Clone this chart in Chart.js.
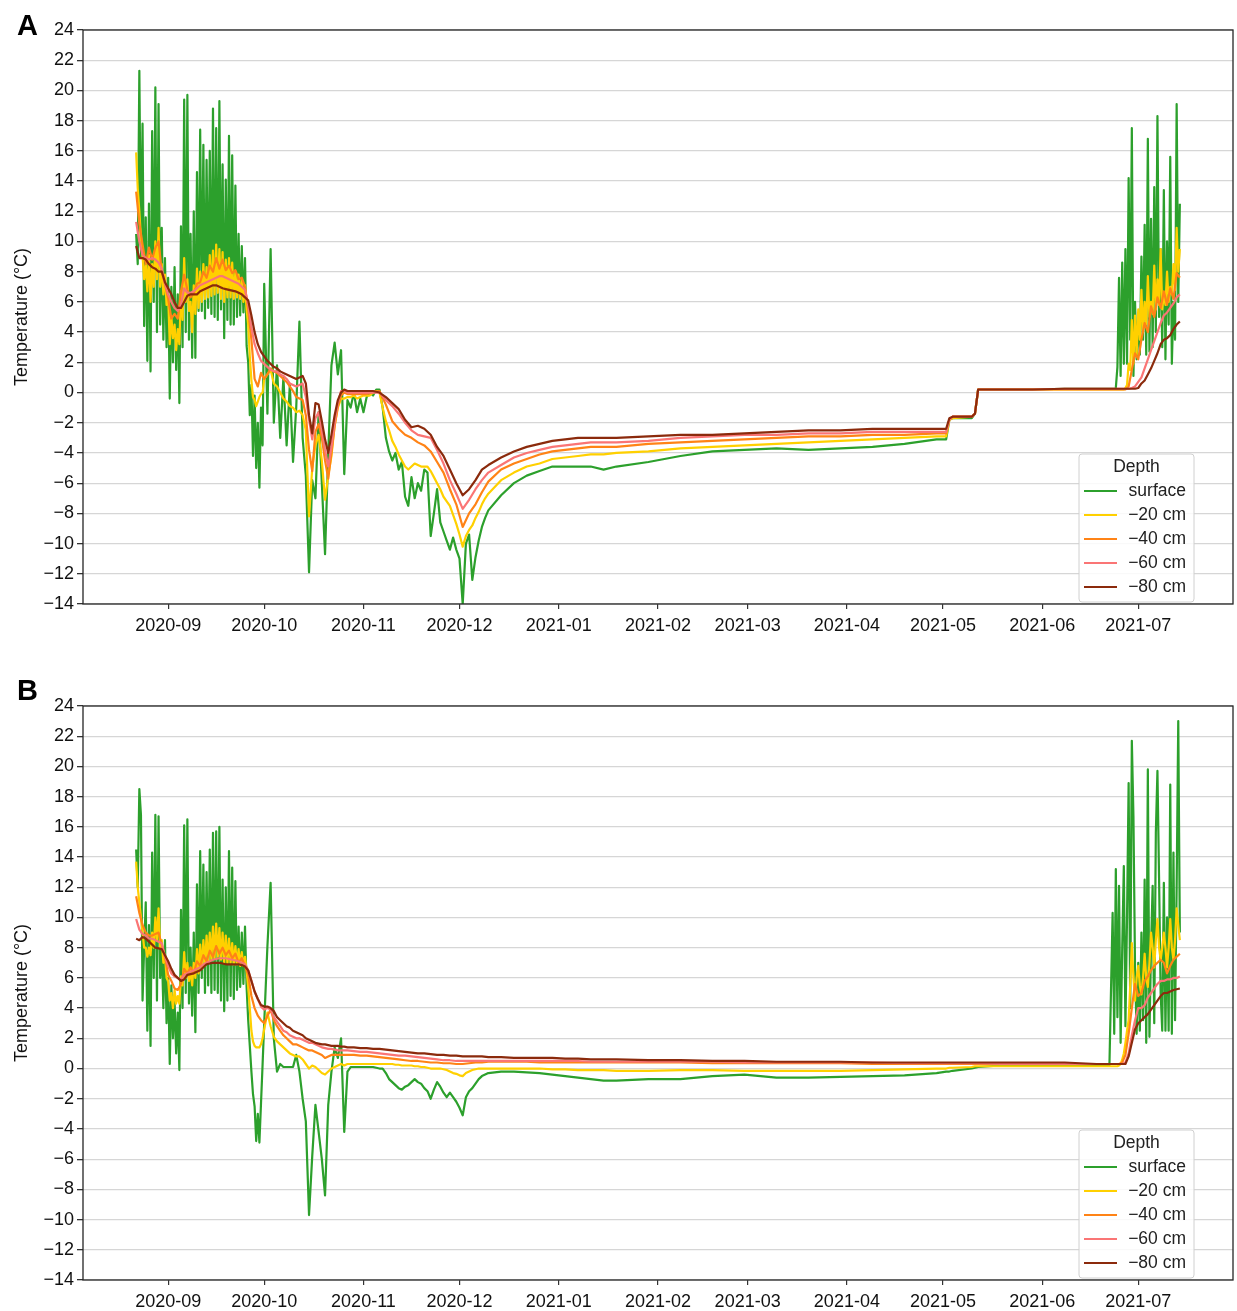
<!DOCTYPE html>
<html lang="en">
<head>
<meta charset="UTF-8">
<title>Soil temperature by depth</title>
<script src="https://cdn.jsdelivr.net/npm/chart.js@4.4.1/dist/chart.umd.min.js"></script>
<style>
  html, body { margin: 0; padding: 0; background: #fff; overflow: hidden; }
  .panel { position: absolute; left: 0; }
  #panelA { top: 0; }
  #panelB { top: 676px; }
</style>
</head>
<body>
<canvas id="panelA" class="panel" width="1237" height="655"></canvas>
<canvas id="panelB" class="panel" width="1237" height="655"></canvas>
<script>
// x values are days since 2020-09-01
const monthDays = [0, 30, 61, 91, 122, 153, 181, 212, 242, 273, 303];
const monthLabels = ['2020-09', '2020-10', '2020-11', '2020-12', '2021-01', '2021-02',
                     '2021-03', '2021-04', '2021-05', '2021-06', '2021-07'];
const tempTicks = [-14, -12, -10, -8, -6, -4, -2, 0, 2, 4, 6, 8, 10, 12, 14, 16, 18, 20, 22, 24];

const depthLabels = ['surface', '\u221220 cm', '\u221240 cm', '\u221260 cm', '\u221280 cm'];
const depthColors = ['#2ca02c', '#ffd000', '#ff8316', '#fa7575', '#8b2a0c'];

// sampling days for surface and -20 cm (half days while the daily cycle is strong)
const fineDays = [
  -10, -9.5, -9, -8.5, -8, -7.5, -7, -6.5, -6, -5.5, -5, -4.5, -4, -3.5, -3, -2.5, -2, -1.5, -1, -0.5,
  0, 0.5, 1, 1.5, 2, 2.5, 3, 3.5, 4, 4.5, 5, 5.5, 6, 6.5, 7, 7.5, 8, 8.5, 9, 9.5,
  10, 10.5, 11, 11.5, 12, 12.5, 13, 13.5, 14, 14.5, 15, 15.5, 16, 16.5, 17, 17.5, 18, 18.5, 19, 19.5,
  20, 20.5, 21, 21.5, 22, 22.5, 23, 23.5, 24, 24.5, 25, 25.5, 26, 26.5, 27, 27.5, 28, 28.5, 29, 29.5,
  30,
  31, 32, 33, 34, 35, 36, 37, 38, 39, 40, 41, 42, 43, 44, 45, 46, 47, 48, 49, 50,
  51, 52, 53, 54, 55, 56, 57, 58, 59, 60, 61, 62, 63, 64, 65, 66, 67, 68, 69, 70,
  71, 72, 73, 74, 75, 76, 77, 78, 79, 80, 81, 82, 83, 84, 85, 86, 87, 88, 89, 90,
  91, 92, 93, 94, 95, 96, 97, 98, 99, 100,
  104, 108, 112, 116, 120, 124, 128, 132, 136, 140,
  150, 160, 170, 180, 190, 200, 210, 220, 230, 240,
  243, 244, 245, 251, 252, 253, 260, 270, 280, 290,
  291, 292, 293, 294, 295,
  295.5, 296, 296.5, 297, 297.5, 298, 298.5, 299, 299.5, 300,
  300.5, 301, 301.5, 302, 302.5, 303, 303.5, 304, 304.5, 305,
  305.5, 306, 306.5, 307, 307.5, 308, 308.5, 309, 309.5, 310,
  310.5, 311, 311.5, 312, 312.5, 313, 313.5, 314, 314.5, 315,
  315.5, 316
];

// sampling days for -40, -60 and -80 cm
const coarseDays = [
  -10, -9, -8, -7, -6, -5, -4, -3, -2, -1,
  0, 1, 2, 3, 4, 5, 6, 7, 8, 9,
  10, 11, 12, 13, 14, 15, 16, 17, 18, 19,
  20, 21, 22, 23, 24, 25, 26, 27, 28, 29,
  30, 31, 32, 33, 34, 35, 36, 37, 38, 39,
  40, 41, 42, 43, 44, 45, 46, 47, 48, 49,
  50, 51, 52, 53, 54, 55, 56,
  58, 60, 62, 64, 66, 68, 70, 72, 74, 76, 78, 80, 82, 84, 86, 88, 90, 92, 94, 96, 98, 100,
  104, 108, 112, 116, 120, 124, 128, 132, 136, 140,
  150, 160, 170, 180, 190, 200, 210, 220, 230, 240,
  243, 244, 245, 251, 252, 253, 260, 270, 280, 290,
  292, 293, 294, 295, 296, 297, 298, 299, 300, 301, 302, 303, 304,
  305, 306, 307, 308, 309, 310, 311, 312, 313, 314, 315, 316
];

// ---- panel A ----
const surfaceA = [
  10.5, 8.5, 21.3, 9.0, 17.8, 4.4, 11.6, 2.1, 12.5, 1.4, 17.3, 6.0, 20.2, 4.0, 19.1, 4.5, 10.9, 3.5, 8.9, 3.0,
  7.6, -0.4, 7.0, 2.0, 8.3, 1.5, 6.5, -0.7, 11.0, 3.0, 19.4, 4.0, 19.7, 3.5, 10.5, 2.3, 12.0, 2.3, 14.6, 5.4,
  17.4, 5.4, 16.4, 4.9, 15.4, 5.6, 16.0, 5.2, 18.8, 5.0, 17.5, 4.8, 19.3, 5.5, 15.1, 3.6, 14.1, 4.8, 17.0, 4.5,
  15.7, 4.5, 13.7, 5.0, 10.5, 5.1, 9.7, 5.3, 8.9, 3.1, 2.0, -1.5, 0.5, -4.2, -0.2, -5.0, -2.0, -6.3, -1.0, -3.5,
  7.2,
  -1.4, 9.5, -2.0, 1.8, -3.0, 1.0, -3.5, 0.5, -4.6, -1.0,
  4.7, -3.0, -5.5, -11.9, -5.8, -7.0, -1.3, -6.0, -10.7, -4.0,
  1.8, 3.3, 1.2, 2.8, -5.4, -0.5, -1.0, 0.0, -1.3, -0.4,
  -1.3, -0.3, 0.0, -0.2, 0.2, 0.2, -1.0, -3.0, -3.9, -4.5,
  -4.0, -5.1, -4.6, -6.9, -7.5, -5.6, -7.0, -6.0, -6.5, -5.1,
  -5.3, -9.5, -8.0, -6.4, -8.6, -9.2, -9.8, -10.4, -9.6, -10.4,
  -11.0, -14.0, -10.0, -9.4, -12.4, -10.9, -9.8, -8.9, -8.3, -7.8,
  -6.8, -6.0, -5.5, -5.2, -4.9, -4.9, -4.9, -4.9, -5.1, -4.9,
  -4.6, -4.2, -3.9, -3.8, -3.7, -3.8, -3.7, -3.6, -3.4, -3.1,
  -3.1, -1.8, -1.7, -1.7, -1.4, 0.2, 0.2, 0.2, 0.25, 0.25,
  0.25, 0.25, 0.25, 0.25, 0.25,
  0.25, 0.3, 1.7, 7.6, 1.1, 8.6, 1.9, 9.5, 1.9, 14.2,
  3.5, 17.5, 1.1, 6.0, 2.2, 5.1, 2.5, 9.0, 3.5, 11.1,
  2.5, 16.8, 2.7, 11.5, 3.0, 13.6, 4.0, 18.3, 5.0, 9.5,
  3.0, 13.4, 2.2, 10.0, 4.5, 15.6, 1.9, 6.0, 3.5, 19.1,
  6.0, 12.5
];
const cm20A = [
  15.9, 13.5, 12.0, 10.2, 9.0, 7.5, 8.5, 6.7, 9.1, 6.0, 8.5, 7.0, 10.0, 7.5, 10.9, 7.0, 8.5, 6.5, 7.8, 5.8,
  6.4, 3.2, 5.0, 3.6, 4.5, 2.8, 4.2, 3.2, 6.7, 4.8, 8.9, 6.0, 7.5, 5.4, 6.0, 4.0, 7.1, 5.2, 8.2, 5.6,
  8.0, 6.0, 8.5, 6.2, 8.3, 6.3, 9.1, 6.4, 9.4, 6.5, 9.8, 6.6, 9.5, 6.2, 9.3, 6.0, 8.8, 6.3, 8.9, 6.3,
  8.6, 6.2, 8.0, 6.3, 7.8, 6.2, 7.5, 6.0, 7.1, 5.5, 4.5, 2.4, 0.8, -0.3, -0.5, -0.9, -0.6, -0.3, -0.1, 0.0,
  0.9,
  1.2, 1.5, 0.6, 0.4, 0.0, -0.4, -0.6, -0.9, -1.0, -1.3,
  -1.2, -1.5, -2.5, -8.2, -5.0, -3.5, -2.8, -4.5, -7.1, -5.5,
  -4.2, -2.2, -1.0, -0.4, -0.4, -0.3, -0.3, -0.2, -0.4, -0.3,
  -0.2, -0.2, -0.2, 0.0, 0.1, 0.0, -1.0, -1.9, -2.5, -3.2,
  -3.6, -4.1, -4.5, -4.9, -5.1, -4.9, -4.7, -4.8, -4.9, -4.9,
  -4.9, -5.2, -5.6, -6.0, -6.4, -6.9, -7.2, -7.5, -8.1, -8.7,
  -9.4, -10.2, -9.5, -9.1, -8.8, -8.3, -7.9, -7.4, -7.0, -6.7,
  -5.8, -5.3, -4.9, -4.7, -4.4, -4.3, -4.2, -4.1, -4.1, -4.0,
  -3.9, -3.7, -3.6, -3.5, -3.4, -3.3, -3.2, -3.1, -3.0, -2.9,
  -2.9, -1.8, -1.7, -1.6, -1.4, 0.2, 0.2, 0.2, 0.2, 0.2,
  0.2, 0.2, 0.2, 0.2, 0.2,
  0.2, 0.2, 0.2, 0.2, 0.2, 0.2, 0.2, 0.3, 0.5, 1.9,
  1.5, 4.8, 1.9, 5.1, 2.5, 5.5, 3.5, 6.8, 4.0, 6.0,
  4.5, 7.7, 5.0, 6.0, 5.2, 8.4, 5.5, 7.5, 5.8, 9.5,
  5.5, 6.5, 5.8, 8.0, 6.0, 7.0, 6.5, 8.5, 6.8, 10.9,
  8.0, 9.5
];
const cm40A = [
  13.3, 11.2, 9.8, 8.5, 9.6, 8.8, 9.6, 10.0, 8.0, 7.2,
  6.2, 4.9, 5.2, 4.9, 6.7, 7.8, 6.8, 6.3, 6.6, 7.2,
  7.3, 8.0, 7.6, 8.4, 8.0, 8.9, 8.2, 8.8, 8.1, 8.4,
  7.9, 8.1, 7.5, 7.6, 7.0, 5.5, 3.5, 0.9, 0.4, 1.3,
  0.9, 1.2, 1.6, 1.4, 1.3, 1.1, 0.9, 0.7, 0.4, 0.1,
  -0.3, -0.4, -0.5, -1.5, -3.8, -5.2, -2.6, -2.1, -3.0, -4.5,
  -5.7, -4.0, -2.2, -0.9, -0.2, 0.0, -0.1,
  -0.1, -0.1, -0.1, 0.0, 0.1, -0.8, -1.9, -2.4, -2.8, -3.0, -3.3, -3.5, -3.9, -4.6, -5.3, -6.4, -7.4, -8.9, -8.0, -7.4, -6.6, -5.9,
  -5.1, -4.7, -4.4, -4.1, -3.9, -3.8, -3.7, -3.6, -3.6, -3.6,
  -3.4, -3.3, -3.2, -3.1, -3.0, -2.9, -2.9, -2.8, -2.8, -2.7,
  -2.7, -1.8, -1.6, -1.6, -1.4, 0.2, 0.2, 0.2, 0.2, 0.2,
  0.2, 0.2, 0.2, 0.2, 0.2, 0.2, 0.2, 0.2, 0.4, 1.5, 2.6, 2.2, 3.5,
  4.6, 4.0, 5.7, 5.0, 6.3, 5.6, 6.7, 5.8, 6.9, 6.2, 7.9, 7.6
];
const cm60A = [
  11.3, 10.0, 9.1, 8.9, 8.8, 8.9, 8.8, 8.6, 8.2, 7.2,
  6.5, 6.0, 5.6, 5.4, 5.8, 6.9, 6.6, 6.6, 6.7, 6.9,
  7.1, 7.2, 7.3, 7.4, 7.5, 7.6, 7.7, 7.7, 7.6, 7.5,
  7.4, 7.3, 7.2, 7.0, 6.8, 5.8, 4.3, 3.2, 2.6, 2.1,
  1.9, 1.7, 1.5, 1.4, 1.4, 1.2, 1.1, 0.9, 0.6, 0.5,
  0.4, 0.5, 0.6, -0.3, -1.8, -3.1, -1.7, -1.3, -2.5, -3.8,
  -4.9, -3.6, -2.0, -0.7, 0.1, 0.1, 0.0,
  0.0, 0.0, 0.0, 0.0, 0.0, -0.5, -0.9, -1.4, -2.0, -2.5, -2.8, -2.9, -3.0, -3.8, -4.7, -5.8, -6.7, -7.7, -7.1, -6.4, -5.8, -5.3,
  -4.8, -4.3, -4.0, -3.8, -3.6, -3.5, -3.4, -3.3, -3.3, -3.3,
  -3.2, -3.0, -2.9, -2.8, -2.8, -2.7, -2.7, -2.6, -2.6, -2.6,
  -2.6, -1.8, -1.6, -1.6, -1.4, 0.2, 0.2, 0.2, 0.25, 0.25,
  0.25, 0.25, 0.25, 0.25, 0.25, 0.25, 0.25, 0.25, 0.25, 0.3, 0.4, 0.7, 1.0,
  1.6, 2.2, 2.8, 3.4, 4.0, 4.6, 5.1, 5.3, 5.6, 5.9, 6.3, 6.5
];
const cm80A = [
  9.7, 8.9, 8.9, 8.8, 8.5, 8.3, 8.2, 8.0, 8.0, 7.3,
  6.9, 6.5, 6.0, 5.6, 5.6, 6.0, 6.4, 6.5, 6.5, 6.5,
  6.7, 6.8, 6.9, 7.0, 7.1, 7.1, 7.0, 6.9, 6.85, 6.8,
  6.75, 6.7, 6.6, 6.5, 6.3, 6.1, 5.1, 4.0, 3.2, 2.7,
  2.4, 2.1, 1.9, 1.7, 1.6, 1.4, 1.3, 1.2, 1.1, 1.0,
  0.9, 1.0, 1.1, 0.6, -1.5, -2.7, -0.7, -0.8, -1.9, -3.1,
  -4.0, -2.8, -1.5, -0.5, 0.0, 0.2, 0.1,
  0.1, 0.1, 0.1, 0.1, 0.0, -0.3, -0.7, -1.1, -1.8, -2.3, -2.2, -2.4, -2.8, -3.6, -4.2, -5.1, -6.0, -6.8, -6.4, -5.8, -5.1, -4.8,
  -4.3, -3.9, -3.6, -3.4, -3.2, -3.1, -3.0, -3.0, -3.0, -3.0,
  -2.9, -2.8, -2.8, -2.7, -2.6, -2.5, -2.5, -2.4, -2.4, -2.4,
  -2.4, -1.7, -1.6, -1.6, -1.4, 0.2, 0.2, 0.2, 0.25, 0.25,
  0.25, 0.25, 0.25, 0.25, 0.25, 0.25, 0.25, 0.25, 0.25, 0.25, 0.25, 0.3, 0.6,
  0.8, 1.2, 1.6, 2.1, 2.6, 3.2, 3.5, 3.6, 3.8, 4.2, 4.5, 4.7
];

// ---- panel B ----
const surfaceB = [
  14.5, 12.0, 18.5, 16.8, 4.5, 8.0, 11.0, 2.5, 9.5, 1.5, 14.3, 6.0, 16.8, 4.5, 16.7, 6.0, 8.1, 4.0, 8.5, 3.0,
  6.0, 0.3, 5.5, 2.0, 4.5, 1.0, 3.7, -0.1, 10.5, 4.0, 16.1, 5.0, 16.5, 4.3, 8.0, 3.5, 9.0, 2.4, 12.2, 5.0,
  14.4, 6.0, 13.5, 5.0, 13.0, 5.5, 14.5, 5.0, 15.6, 5.2, 15.7, 5.0, 16.0, 4.5, 12.5, 3.8, 12.0, 4.5, 14.4, 4.8,
  13.3, 4.6, 12.4, 5.2, 9.4, 5.4, 9.0, 5.6, 9.4, 5.4, 3.2, 1.5, -0.2, -1.7, -2.5, -4.8, -3.0, -4.9, -2.3, 0.3,
  3.0,
  8.1, 12.3, 2.0, -0.2, 0.3, 0.1, 0.1, 0.1, 0.1, 0.9,
  -0.2, -2.0, -3.5, -9.7, -5.8, -2.4, -4.2, -6.0, -8.4, -2.4,
  -0.2, 1.4, 0.7, 2.0, -4.2, -0.2, 0.1, 0.1, 0.1, 0.1,
  0.1, 0.1, 0.1, 0.1, 0.05, 0.0, 0.0, -0.3, -0.7, -0.9,
  -1.1, -1.3, -1.4, -1.2, -1.1, -0.9, -0.7, -0.9, -1.0, -1.3,
  -1.5, -2.0, -1.4, -0.9, -1.2, -1.6, -1.9, -1.6, -1.9, -2.2,
  -2.6, -3.1, -1.9, -1.5, -1.3, -1.0, -0.7, -0.5, -0.4, -0.3,
  -0.2, -0.2, -0.25, -0.3, -0.4, -0.5, -0.6, -0.7, -0.8, -0.8,
  -0.7, -0.7, -0.5, -0.4, -0.6, -0.6, -0.55, -0.5, -0.45, -0.3,
  -0.2, -0.2, -0.15, 0.0, 0.05, 0.1, 0.2, 0.2, 0.2, 0.2,
  0.2, 0.2, 0.2, 0.2, 10.3,
  2.3, 13.2, 3.4, 12.1, 1.7, 8.0, 13.4, 2.8, 10.0, 18.9,
  4.0, 21.7, 16.7, 6.7, 2.3, 7.0, 2.5, 9.0, 3.2, 12.5,
  1.7, 19.8, 2.1, 8.0, 12.1, 3.0, 15.6, 19.7, 12.7, 5.0,
  2.5, 12.3, 2.5, 10.0, 2.5, 18.8, 2.3, 14.3, 3.2, 12.0,
  23.0, 9.0
];
const cm20B = [
  13.7, 12.0, 11.0, 10.0, 9.0, 8.0, 8.0, 7.4, 8.0, 7.5, 9.0, 8.0, 10.0, 8.5, 10.6, 8.0, 8.5, 7.0, 7.5, 6.0,
  5.8, 4.5, 5.0, 4.0, 5.2, 4.3, 4.8, 4.3, 6.1, 5.5, 7.7, 6.0, 7.0, 5.8, 6.5, 5.5, 7.0, 6.0, 7.9, 6.3,
  8.2, 6.6, 8.5, 6.8, 8.8, 7.0, 9.0, 7.2, 9.4, 7.3, 9.6, 7.4, 9.3, 7.2, 9.0, 7.0, 8.8, 7.0, 8.6, 7.0,
  8.3, 6.9, 8.1, 6.9, 7.9, 6.8, 7.7, 6.8, 7.4, 6.5, 5.4, 4.0, 2.5, 1.8, 1.5, 1.4, 1.4, 1.4, 1.6, 2.0,
  2.6,
  3.7, 2.8, 2.1, 1.8, 1.6, 1.4, 1.2, 1.0, 0.9, 0.8,
  0.8, 0.6, 0.3, 0.0, 0.2, 0.1, -0.1, -0.3, -0.4, -0.2,
  0.0, 0.1, 0.2, 0.3, 0.2, 0.3, 0.3, 0.3, 0.3, 0.3,
  0.3, 0.3, 0.3, 0.3, 0.3, 0.3, 0.3, 0.3, 0.3, 0.3,
  0.25, 0.25, 0.2, 0.2, 0.2, 0.2, 0.15, 0.15, 0.1, 0.1,
  0.05, 0.0, 0.0, 0.0, 0.0, -0.05, -0.1, -0.2, -0.3, -0.35,
  -0.45, -0.5, -0.3, -0.2, -0.1, -0.05, 0.0, 0.0, 0.0, 0.0,
  0.0, 0.0, 0.0, 0.0, -0.05, -0.05, -0.1, -0.1, -0.1, -0.15,
  -0.15, -0.1, -0.1, -0.15, -0.15, -0.15, -0.15, -0.1, -0.05, 0.0,
  0.0, 0.05, 0.05, 0.1, 0.15, 0.15, 0.15, 0.15, 0.15, 0.15,
  0.15, 0.15, 0.15, 0.15, 0.15,
  0.15, 0.15, 0.15, 0.2, 0.3, 0.6, 1.0, 1.7, 2.5, 3.2,
  5.5, 8.3, 6.0, 4.5, 6.0, 6.8, 5.5, 4.9, 6.0, 7.6,
  6.0, 5.4, 7.0, 9.0, 8.0, 6.7, 8.5, 9.9, 8.0, 7.2,
  8.0, 9.0, 8.0, 6.7, 8.0, 9.9, 8.0, 7.2, 8.5, 10.6,
  9.5, 8.5
];
const cm40B = [
  11.4, 10.3, 9.5, 9.0, 8.8, 8.8, 8.9, 9.0, 8.2, 7.4,
  6.2, 5.8, 5.3, 5.2, 5.6, 6.6, 6.3, 6.7, 6.3, 7.1,
  6.8, 7.5, 7.1, 7.8, 7.4, 8.1, 7.6, 8.0, 7.5, 7.8,
  7.3, 7.6, 7.0, 7.3, 6.8, 6.2, 4.8, 4.0, 3.5, 3.2,
  3.0, 3.5, 3.9, 3.2, 2.8, 2.5, 2.2, 2.0, 1.8, 1.6,
  1.6, 1.5, 1.4, 1.3, 1.2, 1.2, 1.1, 1.0, 0.9, 0.7,
  0.8, 0.9, 0.9, 0.9, 0.9, 0.9, 0.9,
  0.9, 0.85, 0.85, 0.8, 0.75, 0.7, 0.65, 0.6, 0.55, 0.5, 0.5, 0.45, 0.4, 0.4, 0.35, 0.35, 0.3, 0.3, 0.35, 0.4, 0.4, 0.45,
  0.45, 0.45, 0.45, 0.4, 0.4, 0.4, 0.4, 0.4, 0.4, 0.4,
  0.4, 0.4, 0.35, 0.35, 0.35, 0.35, 0.35, 0.3, 0.3, 0.3,
  0.3, 0.3, 0.3, 0.3, 0.3, 0.3, 0.3, 0.3, 0.3, 0.3,
  0.3, 0.3, 0.3, 0.3, 0.3, 0.3, 0.4, 0.9, 2.3, 4.0, 5.6, 4.8, 5.0,
  5.8, 6.1, 6.5, 6.8, 7.0, 7.2, 7.0, 6.3, 6.8, 7.2, 7.4, 7.6
];
const cm60B = [
  9.9, 9.2, 8.9, 8.8, 8.6, 8.6, 8.5, 8.4, 8.3, 7.4,
  6.8, 6.3, 6.1, 6.0, 5.9, 6.2, 6.3, 6.4, 6.5, 6.6,
  6.7, 6.9, 7.0, 7.1, 7.2, 7.25, 7.3, 7.3, 7.3, 7.25,
  7.2, 7.15, 7.1, 7.0, 6.9, 6.5, 5.8, 5.1, 4.6, 4.1,
  3.9, 4.0, 3.9, 3.4, 3.1, 2.8, 2.5, 2.4, 2.2, 2.1,
  2.0, 2.0, 1.9, 1.8, 1.7, 1.7, 1.6, 1.5, 1.4, 1.35,
  1.3, 1.3, 1.25, 1.2, 1.2, 1.2, 1.2,
  1.15, 1.1, 1.1, 1.05, 1.0, 0.95, 0.9, 0.85, 0.85, 0.8, 0.75, 0.7, 0.65, 0.6, 0.55, 0.55, 0.5, 0.5, 0.5, 0.5, 0.5, 0.5,
  0.5, 0.5, 0.5, 0.5, 0.5, 0.5, 0.5, 0.45, 0.45, 0.45,
  0.45, 0.45, 0.45, 0.4, 0.4, 0.4, 0.4, 0.4, 0.35, 0.35,
  0.35, 0.35, 0.35, 0.35, 0.35, 0.35, 0.3, 0.3, 0.3, 0.3,
  0.3, 0.3, 0.3, 0.3, 0.3, 0.3, 0.3, 0.4, 1.0, 2.2, 3.2, 4.0, 4.0,
  4.2, 4.7, 5.0, 5.3, 5.6, 5.8, 5.8, 5.9, 5.9, 6.0, 6.0, 6.1
];
const cm80B = [
  8.6, 8.5, 8.7, 8.6, 8.4, 8.2, 8.0, 7.95, 7.9, 7.5,
  7.1, 6.6, 6.2, 6.0, 5.8, 5.9, 6.2, 6.25, 6.3, 6.4,
  6.5, 6.7, 6.9, 6.95, 7.0, 7.0, 7.0, 6.95, 6.9, 6.9,
  6.9, 6.9, 6.9, 6.85, 6.75, 6.5, 5.8, 5.1, 4.6, 4.2,
  4.1, 4.1, 4.0, 3.8, 3.4, 3.2, 3.0, 2.8, 2.7, 2.5,
  2.4, 2.3, 2.2, 2.0, 1.9, 1.8, 1.7, 1.65, 1.6, 1.6,
  1.55, 1.5, 1.5, 1.5, 1.45, 1.45, 1.4,
  1.4, 1.35, 1.35, 1.3, 1.3, 1.25, 1.2, 1.15, 1.1, 1.05, 1.0, 1.0, 0.95, 0.9, 0.9, 0.85, 0.85, 0.8, 0.8, 0.8, 0.8, 0.75,
  0.75, 0.7, 0.7, 0.7, 0.7, 0.65, 0.65, 0.6, 0.6, 0.6,
  0.55, 0.55, 0.5, 0.5, 0.45, 0.45, 0.45, 0.4, 0.4, 0.4,
  0.4, 0.4, 0.4, 0.4, 0.4, 0.4, 0.4, 0.4, 0.4, 0.3,
  0.3, 0.3, 0.3, 0.3, 0.3, 0.3, 0.3, 0.3, 0.8, 1.7, 2.6, 3.0, 3.2,
  3.4, 3.6, 3.9, 4.2, 4.5, 4.8, 5.0, 5.0, 5.1, 5.2, 5.25, 5.3
];

const FONT = '"Liberation Sans", Arial, Helvetica, sans-serif';

function toPoints(days, temps) {
  if (days.length !== temps.length) {
    throw new Error('length mismatch ' + days.length + ' vs ' + temps.length);
  }
  return days.map((d, i) => ({ x: d, y: temps[i] }));
}

// frame, legend box and panel letter, drawn the way the figure has them
const panelDecor = {
  id: 'panelDecor',
  afterDatasetsDraw(chart, args, opts) {
    const ctx = chart.ctx;
    const a = chart.chartArea;
    ctx.save();

    ctx.strokeStyle = '#262626';
    ctx.lineWidth = 1.3;
    ctx.strokeRect(a.left, a.top, a.right - a.left, a.bottom - a.top);

    const w = 115, h = 148;
    const x0 = a.right - 39 - w;
    const y0 = a.bottom - 2 - h;
    ctx.beginPath();
    if (ctx.roundRect) ctx.roundRect(x0, y0, w, h, 3);
    else ctx.rect(x0, y0, w, h);
    ctx.fillStyle = 'rgba(255,255,255,0.85)';
    ctx.fill();
    ctx.strokeStyle = '#d0d0d0';
    ctx.lineWidth = 1;
    ctx.stroke();

    ctx.font = '17.5px ' + FONT;
    ctx.fillStyle = '#222';
    ctx.textBaseline = 'middle';
    ctx.textAlign = 'center';
    ctx.fillText('Depth', x0 + w / 2, y0 + 13);
    ctx.textAlign = 'right';
    depthLabels.forEach((lab, i) => {
      const y = y0 + 37 + i * 24;
      ctx.strokeStyle = depthColors[i];
      ctx.lineWidth = 2.2;
      ctx.beginPath();
      ctx.moveTo(x0 + 5, y);
      ctx.lineTo(x0 + 38, y);
      ctx.stroke();
      ctx.fillText(lab, x0 + 107, y);
    });

    ctx.font = 'bold 29px ' + FONT;
    ctx.fillStyle = '#000';
    ctx.textAlign = 'left';
    ctx.textBaseline = 'alphabetic';
    ctx.fillText(opts.letter, opts.letterX, opts.letterY);
    ctx.restore();
  }
};

function makePanel(canvasId, letter, letterY, seriesDays, seriesTemps) {
  const datasets = seriesTemps.map((temps, i) => ({
    label: depthLabels[i],
    data: toPoints(seriesDays[i], temps),
    borderColor: depthColors[i],
    backgroundColor: depthColors[i],
    borderWidth: 2.2,
    borderJoinStyle: 'round',
    pointRadius: 0,
    tension: 0,
    fill: false,
    order: seriesTemps.length - 1 - i   // deepest layer drawn on top
  }));

  new Chart(document.getElementById(canvasId), {
    type: 'line',
    data: { datasets },
    plugins: [panelDecor],
    options: {
      responsive: false,
      animation: false,
      events: [],
      layout: { padding: { top: 30, right: 4, bottom: 0, left: 0 } },
      plugins: {
        legend: { display: false },
        tooltip: { enabled: false },
        panelDecor: { letter: letter, letterX: 17, letterY: letterY }
      },
      scales: {
        x: {
          type: 'linear',
          min: -26.6,
          max: 332.6,
          afterBuildTicks: s => { s.ticks = monthDays.map(v => ({ value: v })); },
          afterFit: s => { s.height = 51; },
          border: { display: false },
          grid: { drawOnChartArea: false, drawTicks: true, tickLength: 5, tickColor: '#333', lineWidth: 1.2 },
          ticks: {
            autoSkip: false,
            maxRotation: 0,
            padding: 6,
            color: '#111',
            font: { family: FONT, size: 18 },
            callback: v => monthLabels[monthDays.indexOf(v)]
          }
        },
        y: {
          min: -14,
          max: 24,
          afterBuildTicks: s => { s.ticks = tempTicks.map(v => ({ value: v })); },
          afterFit: s => { s.width = 83; },
          border: { display: false },
          grid: { color: '#d6d6d6', lineWidth: 1.3, tickColor: '#333', tickLength: 6 },
          ticks: {
            padding: 3,
            color: '#111',
            font: { family: FONT, size: 18 },
            callback: v => (v < 0 ? '\u2212' + Math.abs(v) : String(v))
          },
          title: {
            display: true,
            text: 'Temperature (\u00B0C)',
            color: '#111',
            font: { family: FONT, size: 18 },
            padding: { top: 11, bottom: 0 }
          }
        }
      }
    }
  });
}

const depthDays = [fineDays, fineDays, coarseDays, coarseDays, coarseDays];
makePanel('panelA', 'A', 35, depthDays, [surfaceA, cm20A, cm40A, cm60A, cm80A]);
makePanel('panelB', 'B', 24, depthDays, [surfaceB, cm20B, cm40B, cm60B, cm80B]);
</script>
</body>
</html>
